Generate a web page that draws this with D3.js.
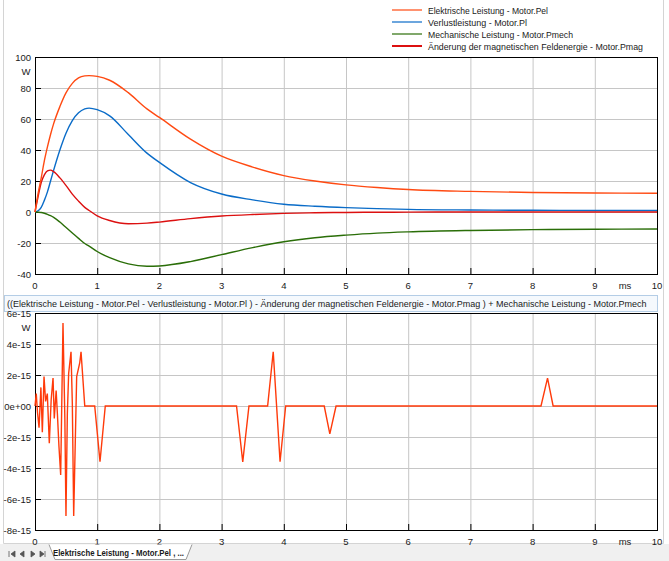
<!DOCTYPE html>
<html lang="de">
<head>
<meta charset="utf-8">
<script src="https://cdn.jsdelivr.net/npm/d3@7"></script>
<style>
  body { margin: 0; background: #fff; }
  svg text { font-family: "Liberation Sans", Arial, sans-serif; fill: #1a1a1a; }
</style>
</head>
<body>
<script>
// top chart data (ms, W)
var timeMs = [0, 0.05, 0.1, 0.15, 0.2, 0.25, 0.3, 0.4, 0.5, 0.6, 0.7, 0.8, 0.87, 1.0, 1.2, 1.5, 1.8, 2.0, 2.5, 3.0, 3.5, 4.0, 4.5, 5.0, 5.5, 6.0, 7.0, 8.0, 9.0, 10.0];
var pel   = [0, 12, 22, 33, 42, 50, 57, 68, 77, 83, 86.5, 87.8, 88, 87.5, 85, 77, 66.5, 61, 47, 36, 29, 23.5, 20, 17.5, 15.8, 14.5, 13.3, 12.6, 12.3, 12.1];
var pl    = [0, 0.8, 3, 7.5, 13, 20, 27, 40, 51, 59, 64, 66.5, 67, 66, 62, 50, 38, 32, 19, 11.6, 7.8, 5, 3.7, 2.8, 2.2, 1.7, 1.3, 1.1, 1.0, 1.0];
var pmech = [0, -0.1, -0.3, -0.8, -1.5, -2.4, -3.5, -6.5, -10, -13.5, -17, -20.3, -22, -25.5, -29.5, -33.5, -35, -34.8, -32, -27.5, -23, -19.2, -16.6, -14.9, -13.6, -12.8, -11.9, -11.4, -11.1, -11];
var pmag  = [0, 10, 19, 24, 26.5, 27, 26, 22, 17, 11.5, 7, 3, 1, -2.5, -5.5, -7.6, -7.2, -6.5, -4.3, -2.6, -1.6, -0.9, -0.5, -0.3, -0.15, -0.1, 0, 0, 0, 0];

// bottom chart: balance error, values in 1e-15 W
var diffT = [0, 0.02, 0.04, 0.065, 0.095, 0.118, 0.145, 0.17, 0.198, 0.23, 0.26, 0.29, 0.31, 0.34, 0.36, 0.385, 0.413, 0.45, 0.48, 0.498, 0.52, 0.541, 0.579, 0.6, 0.622, 0.67, 0.72, 0.74, 0.8, 0.96, 1.045, 1.13,
  3.24, 3.34, 3.44, 3.74, 3.83, 3.94, 4.03, 4.65, 4.74, 4.84, 8.135, 8.24, 8.33, 10];
var diffV = [0, 0.8, -0.4, -1.4, 1.2, -1.7, 1.9, 0.3, 0.8, -2.4, 0.4, 1.8, -0.8, 1.0, -0.5, -2.6, -4.45, 5.35, -0.8, -7.1, -0.5, 2.1, 3.5, 0.2, -7.1, 1.9, 2.8, 3.5, 0, 0, -3.6, 0,
  0, -3.6, 0, 0, 3.5, -3.6, 0, 0, -1.8, 0, 0, 1.8, 0, 0];

var xTicks = [0, 1, 2, 3, 4, 5, 6, 7, 8, 9, 10];
var yTicksTop = [-40, -20, 0, 20, 40, 60, 80, 100];
var yTicksBottom = [-8, -6, -4, -2, 0, 2, 4, 6];
var yLabelsBottom = ["-8e-15", "-6e-15", "-4e-15", "-2e-15", "0e+00", "2e-15", "4e-15", "6e-15"];

var seriesNames = ["Elektrische Leistung - Motor.Pel", "Verlustleistung - Motor.Pl", "Mechanische Leistung - Motor.Pmech", "Änderung der magnetischen Feldenergie - Motor.Pmag"];
var seriesColors = ["#ff4a12", "#0a6cc8", "#2a6e08", "#dc1010"];
var formula = "((Elektrische Leistung - Motor.Pel  - Verlustleistung - Motor.Pl ) - Änderung der magnetischen Feldenergie - Motor.Pmag ) + Mechanische Leistung - Motor.Pmech";

var w = 669, h = 561;
var svg = d3.select("body").append("svg").attr("width", w).attr("height", h);

// window frame
svg.append("rect").attr("x", 0).attr("y", 0).attr("width", w).attr("height", h).attr("fill", "#fff");
svg.append("rect").attr("x", 0).attr("y", 544).attr("width", w).attr("height", 17).attr("fill", "#f0f0f0");
svg.append("path").attr("d", "M3.5,0V543.5H663.5V0").attr("fill", "none").attr("stroke", "#d4d4d4");

var xScale = d3.scaleLinear().domain([0, 10]).range([35, 657]);

function drawPanel(y, top, bottom, ticks, labels) {
  var g = svg.append("g");
  // grid
  g.selectAll(".gx").data(xTicks.slice(1, -1)).enter().append("line")
    .attr("x1", d => xScale(d) + 0.5).attr("x2", d => xScale(d) + 0.5)
    .attr("y1", top).attr("y2", bottom).attr("stroke", "#c6c6c6");
  g.selectAll(".gy").data(ticks.slice(1, -1)).enter().append("line")
    .attr("x1", 35).attr("x2", 657)
    .attr("y1", d => Math.round(y(d)) + 0.5).attr("y2", d => Math.round(y(d)) + 0.5).attr("stroke", "#c6c6c6");

  // axes, ticks pointing inward
  var xa = d3.axisTop(xScale).tickValues(xTicks.slice(1, -1)).tickSize(6).tickFormat("");
  g.append("g").attr("transform", "translate(0," + bottom + ")").call(xa)
    .call(s => s.select(".domain").remove());
  var ya = d3.axisRight(y).tickValues(ticks.slice(1, -1)).tickSize(6).tickFormat("");
  g.append("g").attr("transform", "translate(35,0)").call(ya)
    .call(s => s.select(".domain").remove());
  g.append("rect").attr("x", 35.5).attr("y", top + 0.5).attr("width", 622).attr("height", bottom - top)
    .attr("fill", "none").attr("stroke", "#000");

  // labels
  g.selectAll(".xl").data(xTicks).enter().append("text")
    .attr("x", d => xScale(d)).attr("y", bottom + 15)
    .attr("text-anchor", "middle").style("font-size", "9.5px").text(d => d);
  g.append("text").attr("x", 625).attr("y", bottom + 15).attr("text-anchor", "middle")
    .style("font-size", "9.5px").text("ms");
  g.selectAll(".yl").data(ticks).enter().append("text")
    .attr("x", 31).attr("y", d => y(d) + 3.5)
    .attr("text-anchor", "end").style("font-size", "9.5px").text((d, i) => labels[i]);
  g.append("text").attr("x", 26).attr("y", top + 18).attr("text-anchor", "middle")
    .style("font-size", "9.5px").text("W");
  return g;
}

// top panel
var yTop = d3.scaleLinear().domain([-40, 100]).range([274, 57]);
drawPanel(yTop, 57, 274, yTicksTop, yTicksTop);

var topSeries = [pel, pl, pmech, pmag];
var lineTop = d3.line().x((d, i) => xScale(timeMs[i])).y(d => yTop(d)).curve(d3.curveMonotoneX);
[1, 2, 3, 0].forEach(function (k) {
  svg.append("path").datum(topSeries[k]).attr("d", lineTop)
    .attr("fill", "none").attr("stroke", seriesColors[k]).attr("stroke-width", 1.4);
});

// legend
var legend = svg.append("g");
seriesNames.forEach(function (name, i) {
  var ly = 10 + i * 12;
  legend.append("line").attr("x1", 392).attr("x2", 422).attr("y1", ly).attr("y2", ly)
    .attr("stroke", seriesColors[i]).attr("stroke-width", i === 3 ? 2 : 1.2);
  legend.append("text").attr("x", 428).attr("y", ly + 3.5).style("font-size", "9.5px").text(name);
});

// bottom panel
var yBot = d3.scaleLinear().domain([-8, 6]).range([530, 313]);
svg.append("rect").attr("x", 4.5).attr("y", 295.5).attr("width", 653).attr("height", 16)
  .attr("fill", "#f5f9fd").attr("stroke", "#b4cde6");
var ft = svg.append("text").attr("x", 7).attr("y", 307).style("font-size", "9px").text(formula);
drawPanel(yBot, 313, 530, yTicksBottom, yLabelsBottom);

var lineBot = d3.line().x((d, i) => xScale(diffT[i])).y(d => yBot(d));
svg.append("path").datum(diffV).attr("d", lineBot)
  .attr("fill", "none").attr("stroke", "#ff3a0a").attr("stroke-width", 1.4);

// fit long strings to their box widths
function fit(sel, width) {
  var len = sel.node().getComputedTextLength();
  if (len > width) sel.attr("textLength", width).attr("lengthAdjust", "spacingAndGlyphs");
}
fit(ft, 646);
legend.selectAll("text").each(function (d, i) {
  fit(d3.select(this), [120, 99, 145, 215][i]);
});

// sheet tab strip
var tab = svg.append("g");
["M9,551V557M15,551L11,554L15,557Z", "M24,551L20,554L24,557Z", "M31,551L35,554L31,557Z", "M40,551L44,554L40,557ZM45,551V557"]
  .forEach(function (p) {
    tab.append("path").attr("d", p).attr("fill", "#555").attr("stroke", "#555").attr("stroke-width", 0.8);
  });
tab.append("path").attr("d", "M49,544.5L55,559.5H186L192,544.5")
  .attr("fill", "#fff").attr("stroke", "#9a9a9a");
var tabText = tab.append("text").attr("x", 53).attr("y", 556).style("font-size", "9.5px")
  .style("font-weight", "bold").text("Elektrische Leistung - Motor.Pel , ...");
fit(tabText, 131);
</script>
</body>
</html>
